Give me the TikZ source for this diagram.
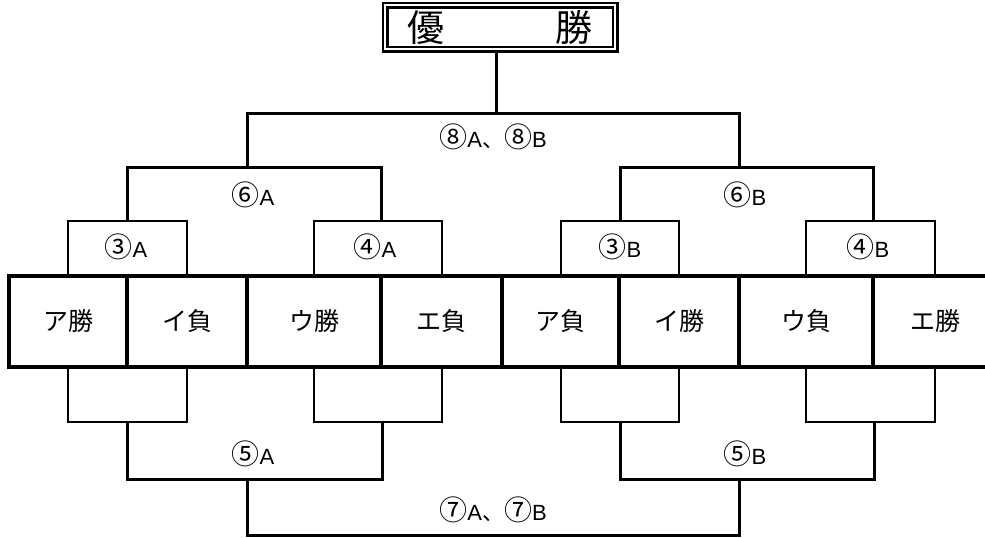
\documentclass[tikz,border=0pt]{standalone}
\usepackage{fontspec}
\setmainfont{Liberation Sans}
\newfontfamily\jp{Noto Sans CJK JP}
\usepackage{tikz}
\newcommand{\cn}[1]{{\jp\fontsize{28}{28}\selectfont #1}}

\begin{document}
\begin{tikzpicture}[x=1pt,y=-1pt,
	cell/.style={draw, line width=4pt, minimum height=91pt, inner sep=0pt, font=\jp\fontsize{25}{25}\selectfont},
	lbl/.style={inner sep=0pt, font=\fontsize{22}{22}\selectfont},
	brk/.style={line width=3pt},
	tie/.style={line width=2pt}]
	\useasboundingbox (0,0) rectangle (985,538);
	\node[draw, double, line width=2.5pt, double distance=2pt, minimum width=230pt, minimum height=44pt, inner sep=0pt, font=\jp\fontsize{37}{37}\selectfont] (win) at (500,27) {優　　　勝};
	\node[cell, minimum width=118pt] (c1) at (68,321.5) {ア勝};
	\node[cell, minimum width=120pt] (c2) at (187,321.5) {イ負};
	\node[cell, minimum width=134pt] (c3) at (314,321.5) {ウ勝};
	\node[cell, minimum width=121pt] (c4) at (441.5,321.5) {エ負};
	\node[cell, minimum width=117pt] (c5) at (560.5,321.5) {ア負};
	\node[cell, minimum width=120pt] (c6) at (679,321.5) {イ勝};
	\node[cell, minimum width=134pt] (c7) at (806,321.5) {ウ負};
	\node[cell, minimum width=124pt] (c8) at (935,321.5) {エ勝};
	\coordinate (a3) at (127,221);
	\coordinate (a4) at (381,221);
	\coordinate (b3) at (620,221);
	\coordinate (b4) at (873,221);
	\coordinate (a6) at (247,167);
	\coordinate (b6) at (739,167);
	\coordinate (f8) at (496,113);
	\coordinate (a3l) at (127,422);
	\coordinate (a4l) at (382,422);
	\coordinate (b3l) at (620,422);
	\coordinate (b4l) at (874,422);
	\coordinate (a5) at (247,479);
	\coordinate (b5) at (739,479);
	\coordinate (f7) at (493,535);
	\draw[tie] (c1.north) |- (a3) -| (c2.north);
	\draw[tie] (c3.north) |- (a4) -| (c4.north);
	\draw[tie] (c5.north) |- (b3) -| (c6.north);
	\draw[tie] (c7.north) |- (b4) -| (c8.north);
	\draw[brk] (a3) |- (a6) -| (a4);
	\draw[brk] (b3) |- (b6) -| (b4);
	\draw[brk] (a6) |- (f8) -| (b6);
	\draw[brk] (win.south -| f8) -- (f8);
	\draw[tie] (c1.south) |- (a3l) -| (c2.south);
	\draw[tie] (c3.south) |- (a4l) -| (c4.south);
	\draw[tie] (c5.south) |- (b3l) -| (c6.south);
	\draw[tie] (c7.south) |- (b4l) -| (c8.south);
	\draw[brk] (a3l) |- (a5) -| (a4l);
	\draw[brk] (b3l) |- (b5) -| (b4l);
	\draw[brk] (a5) |- (f7) -| (b5);
	\node[lbl] (l8) at (493,137) {\cn{⑧}A{\jp 、}\cn{⑧}B};
	\node[lbl] (l6a) at (253,195) {\cn{⑥}A};
	\node[lbl] (l6b) at (745,195) {\cn{⑥}B};
	\node[lbl] (l3a) at (126,247) {\cn{③}A};
	\node[lbl] (l4a) at (375,247) {\cn{④}A};
	\node[lbl] (l3b) at (620,247) {\cn{③}B};
	\node[lbl] (l4b) at (868,247) {\cn{④}B};
	\node[lbl] (l5a) at (253,454) {\cn{⑤}A};
	\node[lbl] (l5b) at (745,454) {\cn{⑤}B};
	\node[lbl] (l7) at (493,510) {\cn{⑦}A{\jp 、}\cn{⑦}B};
\end{tikzpicture}
\end{document}
